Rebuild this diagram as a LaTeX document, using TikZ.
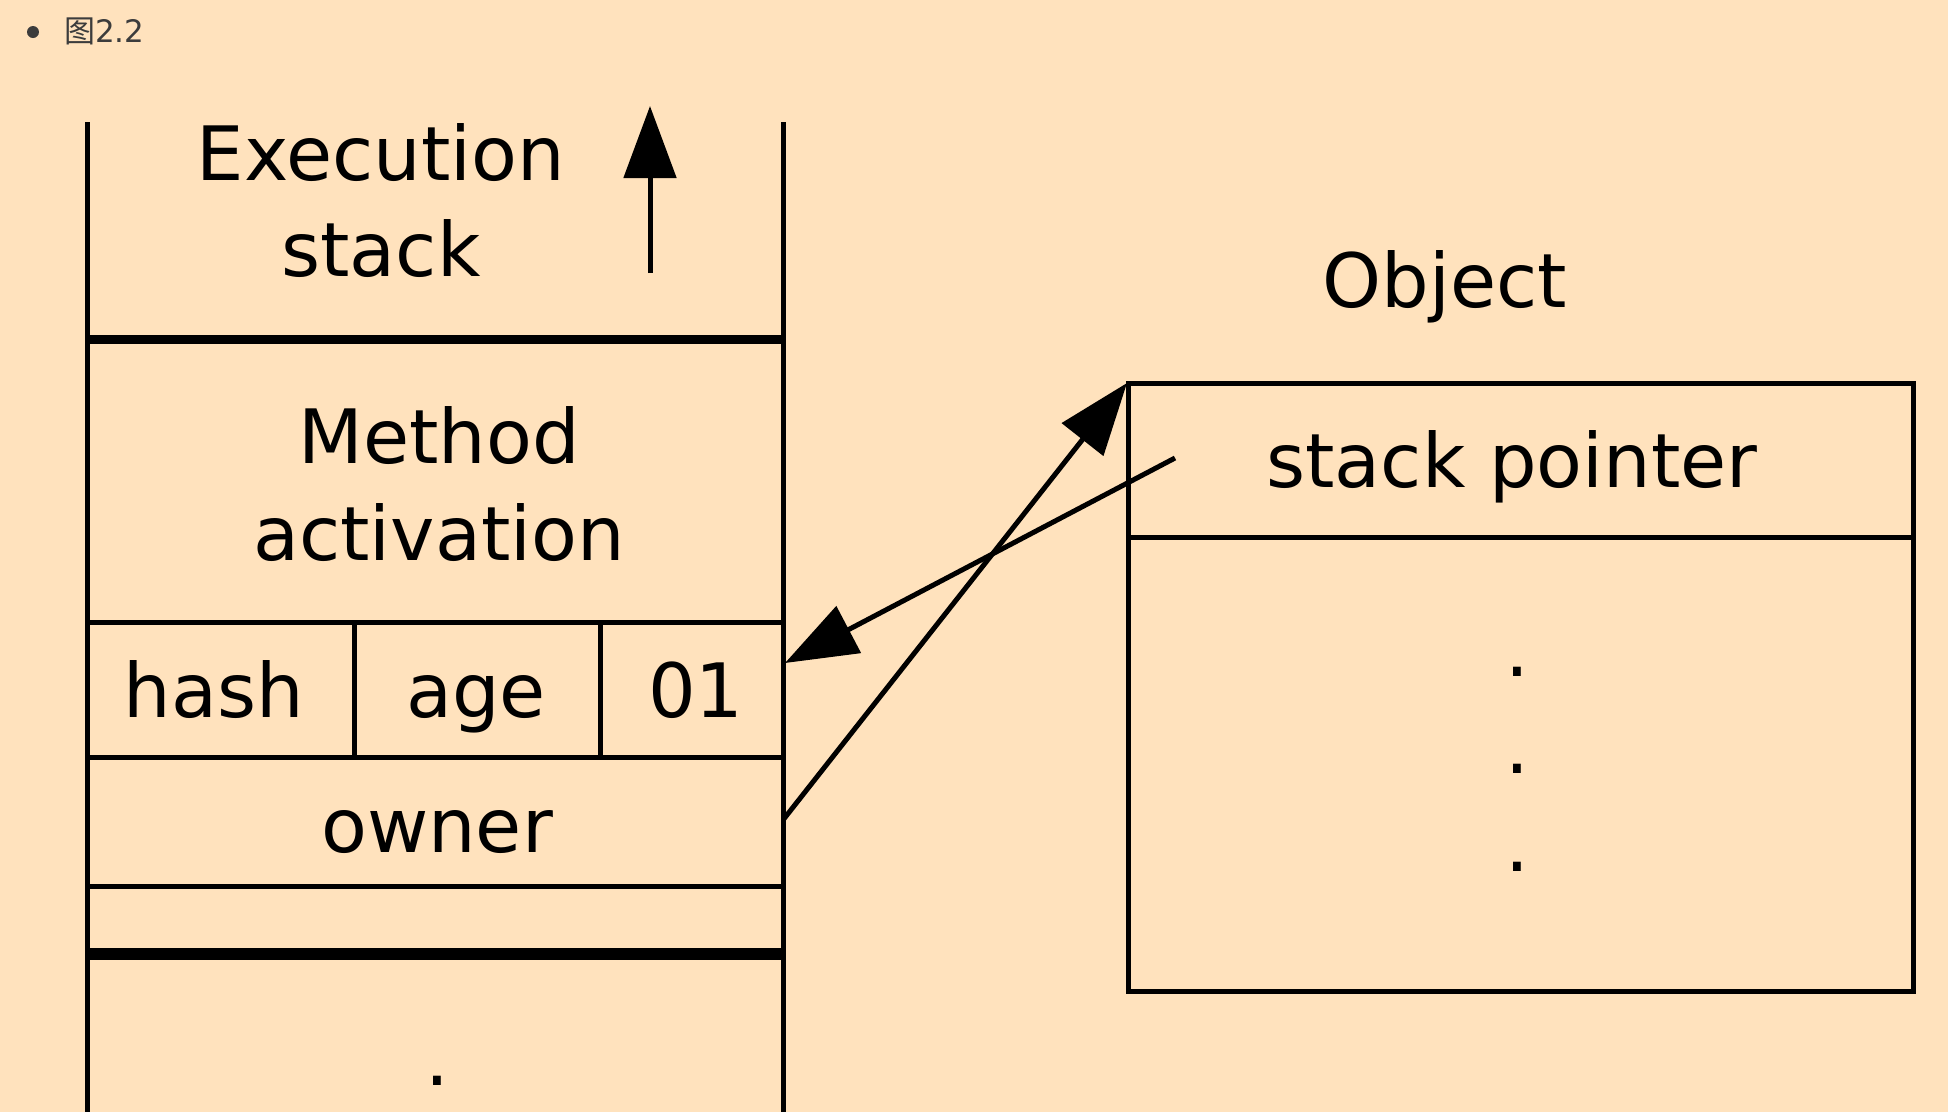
\documentclass[tikz,border=0pt]{standalone}
\usepackage{fontspec}
\setmainfont{DejaVu Sans}
\newfontfamily\cjk{Noto Sans CJK SC}
\usetikzlibrary{arrows.meta}
\definecolor{bgc}{HTML}{FFE2BD}
\definecolor{txtgray}{HTML}{3C3C3C}
\tikzset{
  big/.style={font=\fontsize{75}{95}\selectfont, inner sep=0pt, anchor=base},
  thin/.style={line width=5pt},
  thickline/.style={line width=9pt},
  thickerline/.style={line width=12pt},
  arr/.style={line width=5pt, -{Triangle[length=72pt,width=52pt]}},
}
\begin{document}
\begin{tikzpicture}[x=1pt,y=-1pt]
\fill[bgc] (0,0) rectangle (1948,1112);
\useasboundingbox (0,0) rectangle (1948,1112);

% caption bullet
\fill[txtgray] (33,32) circle (6);
\node[anchor=base west, inner sep=0pt, text=txtgray, font=\fontsize{31}{36}\selectfont] (cap) at (64,42) {{\cjk 图}2.2};

% stack sides
\draw[thin] (87,122) -- (87,1112);
\draw[thin] (783,122) -- (783,1112);

% execution stack
\node[big] (exec1) at (381,180) {Execution};
\node[big] (exec2) at (381,276) {stack};
\coordinate (upS) at (650,273);
\coordinate (upE) at (650,106);
\draw[arr] (upS) -- (upE);

\draw[thickline] (87,339) -- (783,339);

% method activation
\node[big] (m1) at (439,463) {Method};
\node[big] (m2) at (439,560) {activation};

\draw[thin] (87,622) -- (783,622);
\draw[thin] (354,622) -- (354,757);
\draw[thin] (600,622) -- (600,757);
\node[big] (hash) at (214,717) {hash};
\node[big] (age) at (476,717) {age};
\node[big] (zero1) at (696,717) {01};
\draw[thin] (87,757) -- (783,757);
\node[big] (owner) at (437,852) {owner};
\draw[thin] (87,886) -- (783,886);
\draw[thickerline] (87,954) -- (783,954);
\node[big] (sdot) at (437,1085) {.};

% object
\node[big] (objt) at (1445,307) {Object};
\draw[thin] (1128,383) rectangle (1913,991);
\draw[thin] (1128,537) -- (1913,537);
\node[big] (sp) at (1512,487) {stack pointer};
\node[big] (d1) at (1517,676) {.};
\node[big] (d2) at (1517,773) {.};
\node[big] (d3) at (1517,871) {.};

% connectors
\coordinate (spS) at (1175,458);
\coordinate (hashR) at (785,663);
\coordinate (ownR) at (783,820);
\coordinate (objTL) at (1127,383);
\draw[arr] (spS) -- (hashR);
\draw[arr] (ownR) -- (objTL);
\end{tikzpicture}
\end{document}
